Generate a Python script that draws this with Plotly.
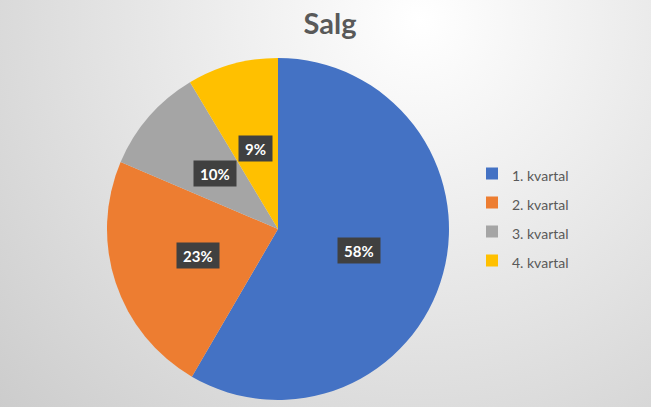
import math
import base64
import plotly.graph_objects as go

categories = ["1. kvartal", "2. kvartal", "3. kvartal", "4. kvartal"]
values = [58.4, 23.0, 10.0, 8.6]
colors = ["#4472C4", "#ED7D31", "#A5A5A5", "#FFC000"]
title = "Salg"

FONT = "Lato, Carlito, Open Sans, sans-serif"
W, H = 651, 407
ml, mr, mt, mb = 107, 202, 58, 7
pw, ph = W - ml - mr, H - mt - mb

svg = f'''<svg xmlns="http://www.w3.org/2000/svg" width="{W}" height="{H}">
<defs><radialGradient id="g" gradientUnits="userSpaceOnUse" cx="420" cy="20" r="640">
<stop offset="0" stop-color="#ffffff"/><stop offset="0.3" stop-color="#eeeeee"/>
<stop offset="1" stop-color="#c6c6c6"/></radialGradient></defs>
<rect width="{W}" height="{H}" fill="url(#g)"/></svg>'''
bg = "data:image/svg+xml;base64," + base64.b64encode(svg.encode()).decode()

legend_labels = [f'<span style="font-size:14px">{c}</span>' for c in categories]

fig = go.Figure(go.Pie(
    labels=legend_labels, values=values, sort=False, direction="clockwise",
    rotation=0, marker=dict(colors=colors, line=dict(width=0)),
    textinfo="none", hoverinfo="label+percent",
    domain=dict(x=[0, 1], y=[0, 1]),
))

total = sum(values)
cum = 0
annotations = []
for v in values:
    mid = (cum + v / 2) / total * 2 * math.pi
    cum += v
    annotations.append(dict(
        x=0.5 + 0.245 * math.sin(mid), y=0.5 + 0.245 * math.cos(mid),
        xref="paper", yref="paper", xanchor="center", yanchor="middle", showarrow=False,
        text=f"<b>{round(v / total * 100)}%</b>",
        font=dict(family=FONT, size=15, color="white"),
        bgcolor="#404040", borderpad=6, height=13, valign="middle",
    ))

fig.update_layout(
    width=W, height=H,
    margin=dict(l=ml, r=mr, t=mt, b=mb),
    paper_bgcolor="#e6e6e6",
    images=[dict(source=bg, xref="paper", yref="paper", x=-ml / pw,
                 y=1 + mt / ph, sizex=W / pw, sizey=H / ph,
                 sizing="stretch", layer="below", xanchor="left", yanchor="top")],
    title=dict(text=f"<b>{title}</b>", x=330 / W, xanchor="center", y=1 - 24 / H, yanchor="middle",
               font=dict(family=FONT, size=29, color="#595959")),
    legend=dict(x=(472 - ml) / pw, y=(H - mb - 217) / ph, xanchor="left", yanchor="middle",
                font=dict(family=FONT, size=20, color="#595959"),
                bgcolor="rgba(0,0,0,0)"),
    annotations=annotations,
    showlegend=True,
)

fig.write_html("out.html", config={"displayModeBar": False},
               post_script="document.body.style.margin='0';document.body.style.overflow='hidden';")
